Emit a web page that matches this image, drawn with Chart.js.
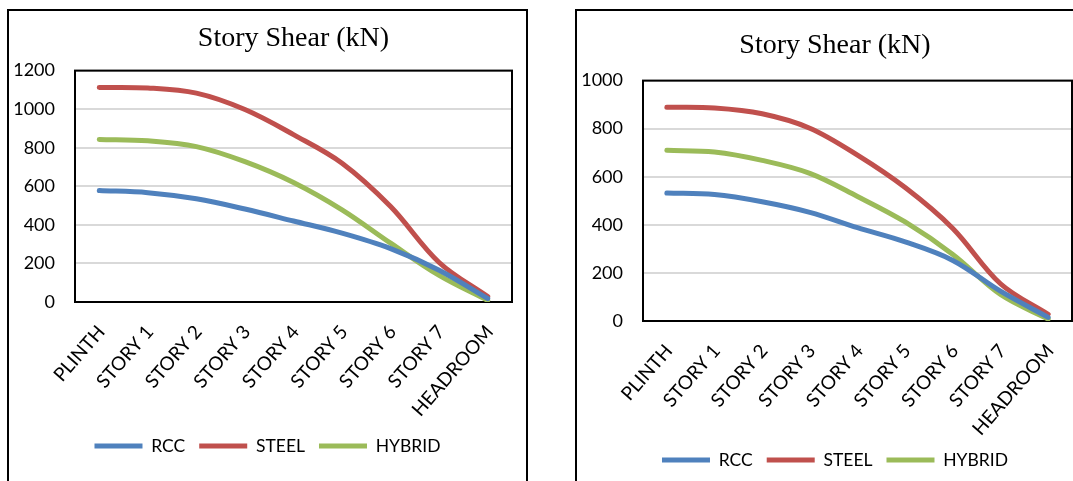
<!DOCTYPE html>
<html>
<head>
<meta charset="utf-8">
<script src="https://cdn.jsdelivr.net/npm/chart.js@4.4.0/dist/chart.umd.min.js"></script>
<style>
  body { margin: 0; width: 1073px; height: 481px; overflow: hidden; background: #fff; position: relative; }
  .box { position: absolute; top: 9px; height: 490px; border: 2px solid #000; box-sizing: border-box; }
  #box1 { left: 7px; width: 521px; }
  #box2 { left: 575px; width: 520px; }
  canvas { position: absolute; }
</style>
</head>
<body>
<div class="box" id="box1"></div>
<div class="box" id="box2"></div>
<canvas id="chart1" width="517" height="500" style="left:9px;top:11px"></canvas>
<canvas id="chart2" width="516" height="500" style="left:577px;top:11px"></canvas>
<script>
const floors = ["PLINTH", "STORY 1", "STORY 2", "STORY 3", "STORY 4", "STORY 5", "STORY 6", "STORY 7", "HEADROOM"]

// left chart (kN)
const rccLeft = [578, 567, 535, 482, 420, 357, 277, 165, 18]
const steelLeft = [1113, 1110, 1083, 998, 868, 720, 495, 205, 28]
const hybridLeft = [843, 836, 806, 728, 620, 478, 305, 138, 8]

// right chart (kN)
const rccRight = [532, 526, 496, 452, 388, 329, 252, 124, 15]
const steelRight = [889, 886, 862, 802, 690, 555, 385, 155, 28]
const hybridRight = [710, 703, 668, 614, 518, 412, 277, 110, 8]

const yTicksLeft = [0, 200, 400, 600, 800, 1000, 1200]
const yTicksRight = [0, 200, 400, 600, 800, 1000]

const legendPad = 14
const legendFont = 17.5

// black frame round the plot area
const plotBorder = {
  id: "plotBorder",
  beforeDatasetsDraw(chart) {
    const a = chart.chartArea
    const c = chart.ctx
    c.save()
    c.strokeStyle = "#000"
    c.lineWidth = 2
    c.strokeRect(a.left, a.top, a.right - a.left, a.bottom - a.top)
    c.restore()
  }
}

function makeChart(id, rcc, steel, hybrid, yTicks, s) {
  const yMax = yTicks[yTicks.length - 1]
  // legend sits a little into the tall axis-label strip, like the original
  const legendMove = {
    id: "legendMove",
    afterLayout(chart) {
      const lg = chart.legend
      const h = lg.bottom - lg.top
      lg.top = s.legendMid - legendPad - legendFont / 2
      lg.bottom = lg.top + h
    }
  }
  return new Chart(document.getElementById(id), {
    type: "line",
    data: {
      labels: floors,
      datasets: [
        { label: "RCC", data: rcc, borderColor: "#4F81BD", backgroundColor: "#4F81BD" },
        { label: "STEEL", data: steel, borderColor: "#C0504D", backgroundColor: "#C0504D" },
        { label: "HYBRID", data: hybrid, borderColor: "#9BBB59", backgroundColor: "#9BBB59" }
      ]
    },
    options: {
      responsive: false,
      animation: false,
      datasets: {
        line: { borderWidth: 5, pointRadius: 0, pointHoverRadius: 0, tension: 0.35, borderCapStyle: "round", fill: false }
      },
      layout: { padding: { left: 0, right: 0, top: 0, bottom: s.padB } },
      plugins: {
        title: {
          display: true,
          text: "Story Shear (kN)",
          fullSize: s.titleFull,
          color: "#000",
          font: { family: "'Liberation Serif'", size: 28, weight: "normal" },
          padding: { top: s.tTop, bottom: s.tBot }
        },
        legend: {
          position: "bottom",
          labels: {
            usePointStyle: true,
            pointStyle: "line",
            pointStyleWidth: 48,
            padding: legendPad,
            color: "#000",
            font: { family: "Lato", size: legendFont }
          }
        },
        tooltip: { enabled: false }
      },
      scales: {
        x: {
          offset: true,
          grid: { display: false },
          border: { display: false },
          ticks: {
            autoSkip: false, minRotation: 49, maxRotation: 49,
            padding: 11, labelOffset: 2,
            color: "#000",
            font: { family: "Lato", size: 19 }
          },
          afterFit: sc => { sc.height = s.xH }
        },
        y: {
          min: 0,
          max: yMax,
          grid: { color: "#d9d9d9", lineWidth: 2, drawTicks: false },
          border: { display: false },
          afterBuildTicks: sc => { sc.ticks = yTicks.map(v => ({ value: v })) },
          ticks: { padding: 20, color: "#000", font: { family: "Lato", size: 18 }, callback: v => String(v) },
          afterFit: sc => { sc.width = 66 }
        },
        // empty strip right of the plot
        gap: {
          position: "right",
          grid: { display: false },
          border: { display: false },
          ticks: { display: false },
          afterFit: sc => { sc.width = s.padR }
        }
      }
    },
    plugins: [plotBorder, legendMove]
  })
}

makeChart("chart1", rccLeft, steelLeft, hybridLeft, yTicksLeft,
  { padB: 41.5, padR: 14, xH: 126, tTop: 11, tBot: 15, titleFull: false, legendMid: 435 })
makeChart("chart2", rccRight, steelRight, hybridRight, yTicksRight,
  { padB: 18.5, padR: 21, xH: 130, tTop: 18, tBot: 18, titleFull: true, legendMid: 449 })
</script>
</body>
</html>
